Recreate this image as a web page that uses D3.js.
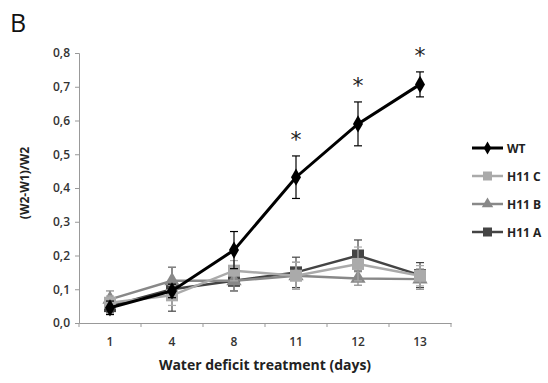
<!DOCTYPE html>
<html>
<head>
<meta charset="utf-8">
<script src="https://cdn.jsdelivr.net/npm/d3@7"></script>
<style>
  body { margin: 0; background: #fff; }
  svg text { font-family: "Open Sans", Lato, sans-serif; }
</style>
</head>
<body>
<div id="chart"></div>
<script>
// dados
const days = ["1", "4", "8", "11", "12", "13"];
const seriesNames = ["WT", "H11 C", "H11 B", "H11 A"];
const wtValues = [0.045, 0.095, 0.216, 0.432, 0.59, 0.707];
const wtErrors = [0.02, 0.02, 0.055, 0.063, 0.065, 0.037];
const h11cValues = [0.06, 0.082, 0.155, 0.14, 0.175, 0.14];
const h11cErrors = [0.02, 0.03, 0.03, 0.04, 0.05, 0.03];
const h11bValues = [0.07, 0.125, 0.125, 0.14, 0.132, 0.13];
const h11bErrors = [0.025, 0.04, 0.03, 0.04, 0.02, 0.03];
const h11aValues = [0.05, 0.1, 0.125, 0.15, 0.2, 0.142];
const h11aErrors = [0.02, 0.065, 0.03, 0.045, 0.046, 0.037];
const yTicks = [0, 0.1, 0.2, 0.3, 0.4, 0.5, 0.6, 0.7, 0.8];
const starDays = ["11", "12", "13"];

const width = 548;
const height = 383;
const margin = { top: 53, right: 97, bottom: 60, left: 79 };
const graphWidth = width - margin.left - margin.right;
const graphHeight = height - margin.top - margin.bottom;

const series = [
  { name: seriesNames[3], values: h11aValues, errors: h11aErrors, color: "#444", shape: "square" },
  { name: seriesNames[2], values: h11bValues, errors: h11bErrors, color: "#888", shape: "triangle" },
  { name: seriesNames[1], values: h11cValues, errors: h11cErrors, color: "#aaa", shape: "square" },
  { name: seriesNames[0], values: wtValues, errors: wtErrors, color: "#000", shape: "diamond" }
];

const x = d3.scaleBand().domain(days).range([0, graphWidth]);
const y = d3.scaleLinear().domain([0, 0.8]).range([graphHeight, 0]);

const root = d3.select("#chart").append("svg")
  .attr("width", width)
  .attr("height", height);

root.append("text")
  .attr("x", 10).attr("y", 32)
  .attr("font-size", 25)
  .attr("fill", "#111")
  .text("B");

const svg = root.append("g")
  .attr("transform", `translate(${margin.left}, ${margin.top})`);

// eixo Y
const yAxis = svg.append("g")
  .call(d3.axisLeft(y).tickValues(yTicks).tickSize(4).tickPadding(5)
    .tickFormat((d) => d3.format(".1f")(d).replace(".", ",")));
yAxis.select(".domain").attr("stroke", "#999");
yAxis.selectAll(".tick line").attr("stroke", "#999");
yAxis.selectAll("text").attr("font-size", 12).attr("font-weight", 600).attr("fill", "#333");

// eixo X
const xAxis = svg.append("g")
  .attr("transform", `translate(0,${graphHeight})`)
  .call(d3.axisBottom(x).tickSize(0).tickPadding(14));
xAxis.select(".domain").attr("stroke", "#999");
xAxis.selectAll("text").attr("font-size", 12).attr("font-weight", 600).attr("fill", "#333");
// marcas entre as categorias
svg.append("g").selectAll("line")
  .data(days.concat(["end"]))
  .enter().append("line")
  .attr("x1", (d, i) => i * x.step()).attr("x2", (d, i) => i * x.step())
  .attr("y1", graphHeight).attr("y2", graphHeight + 4)
  .attr("stroke", "#999");

svg.append("text")
  .attr("x", graphWidth / 2).attr("y", graphHeight + 47)
  .attr("text-anchor", "middle")
  .attr("font-size", 14).attr("font-weight", "bold").attr("fill", "#222")
  .text("Water deficit treatment (days)");

svg.append("text")
  .attr("transform", `translate(-50, ${graphHeight / 2 - 5}) rotate(-90)`)
  .attr("text-anchor", "middle")
  .attr("font-size", 12).attr("font-weight", "bold").attr("fill", "#222")
  .text("(W2-W1)/W2");

const cx = (i) => x(days[i]) + x.bandwidth() / 2;

function marker(g, shape, color, size) {
  if (shape === "square") {
    g.append("rect").attr("x", -size / 2).attr("y", -size / 2)
      .attr("width", size).attr("height", size).attr("fill", color);
  } else if (shape === "triangle") {
    g.append("path").attr("d", d3.symbol(d3.symbolTriangle, size * size * 0.7)).attr("fill", color);
  } else {
    g.append("path").attr("d", d3.symbol(d3.symbolDiamond, size * size * 0.6)).attr("fill", color);
  }
}

series.forEach((s) => {
  const g = svg.append("g");
  // barras de erro
  s.values.forEach((v, i) => {
    const top = y(v + s.errors[i]);
    const bot = y(v - s.errors[i]);
    g.append("line").attr("x1", cx(i)).attr("x2", cx(i)).attr("y1", top).attr("y2", bot)
      .attr("stroke", s.color).attr("stroke-width", 1.2);
    [top, bot].forEach((yy) => {
      g.append("line").attr("x1", cx(i) - 4).attr("x2", cx(i) + 4).attr("y1", yy).attr("y2", yy)
        .attr("stroke", s.color).attr("stroke-width", 1.2);
    });
  });
  const line = d3.line().x((d, i) => cx(i)).y((d) => y(d));
  g.append("path").datum(s.values)
    .attr("d", line)
    .attr("fill", "none")
    .attr("stroke", s.color)
    .attr("stroke-width", s.name === "WT" ? 3 : 2.5);
  s.values.forEach((v, i) => {
    const m = g.append("g").attr("transform", `translate(${cx(i)},${y(v)})`);
    marker(m, s.shape, s.color, 12);
  });
});

// asteriscos
svg.selectAll(".star")
  .data(starDays)
  .enter().append("text")
  .attr("class", "star")
  .attr("x", (d) => x(d) + x.bandwidth() / 2)
  .attr("y", (d) => y(wtValues[days.indexOf(d)] + wtErrors[days.indexOf(d)]) - 9)
  .attr("text-anchor", "middle")
  .attr("font-size", 22)
  .attr("fill", "#222")
  .style("font-family", "'DejaVu Sans', sans-serif")
  .text("*");

// legenda
const legendOrder = [series[3], series[2], series[1], series[0]];
const legend = root.append("g").attr("transform", "translate(472, 148)");
legendOrder.forEach((s, i) => {
  const lg = legend.append("g").attr("transform", `translate(0, ${i * 28})`);
  lg.append("line").attr("x1", 0).attr("x2", 31).attr("y1", 0).attr("y2", 0)
    .attr("stroke", s.color).attr("stroke-width", s.name === "WT" ? 3 : 2.5);
  marker(lg.append("g").attr("transform", "translate(15.5,0)"), s.shape, s.color, 9);
  lg.append("text").attr("x", 35).attr("y", 4.5)
    .attr("font-size", 12).attr("font-weight", "bold").attr("fill", "#222")
    .text(s.name);
});
</script>
</body>
</html>
